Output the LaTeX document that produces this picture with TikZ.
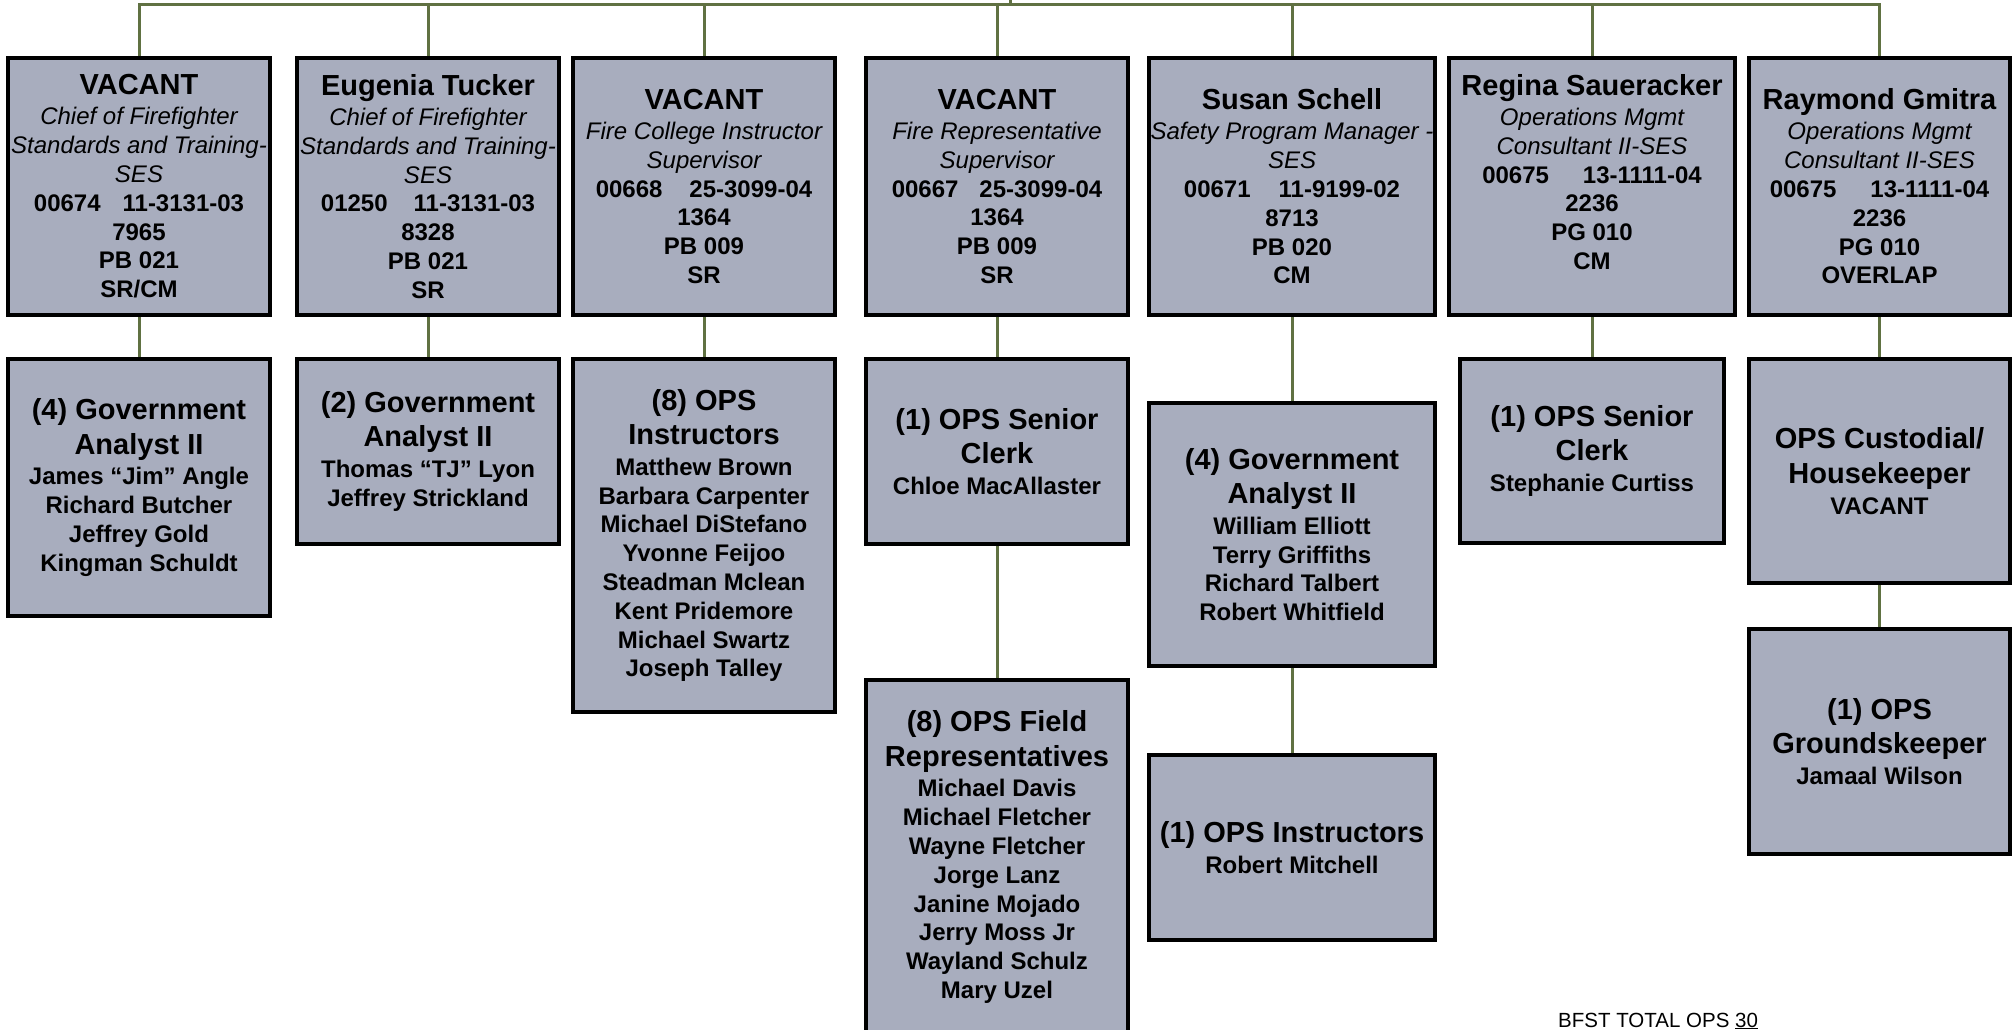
\documentclass[tikz,border=0pt]{standalone}
\usepackage{fontspec}
\setmainfont{Liberation Sans}
\definecolor{boxfill}{RGB}{168,173,190}
\definecolor{conncol}{RGB}{96,113,66}
\newcommand\ttlfont{\fontsize{29}{34.8}\selectfont}
\newcommand\subit{\mdseries\itshape}
\tikzset{
  orgbox/.style={draw=black, line width=4pt, fill=boxfill, rectangle, inner sep=0pt,
    align=center, font=\fontsize{24}{28.8}\selectfont\bfseries},
  conn/.style={draw=conncol, line width=3pt},
  footer/.style={inner sep=0pt, anchor=base west, font=\fontsize{20.5}{24}\selectfont},
}
\begin{document}
\begin{tikzpicture}[x=1pt,y=-1pt]
\useasboundingbox (0,0) rectangle (2013,1030);
\clip (0,0) rectangle (2013,1030);

% ---------- row 1 ----------
\node[orgbox, minimum width=262pt, minimum height=257pt] (b1) at (139,186.5)
 {{\ttlfont VACANT}\\[1.2pt]
  {\subit Chief of Firefighter}\\
  {\subit Standards and Training-}\\
  {\subit SES}\\
  00674\hspace{22pt}11-3131-03\\
  7965\\ PB 021\\ SR/CM};
\node[orgbox, minimum width=262pt, minimum height=257pt] (b2) at (428,186.5)
 {{\ttlfont Eugenia Tucker}\\[1.2pt]
  {\subit Chief of Firefighter}\\
  {\subit Standards and Training-}\\
  {\subit SES}\\
  01250\hspace{26pt}11-3131-03\\
  8328\\ PB 021\\ SR};
\node[orgbox, minimum width=262pt, minimum height=257pt] (b3) at (704,186.5)
 {{\ttlfont VACANT}\\[1.2pt]
  {\subit Fire College Instructor}\\
  {\subit Supervisor}\\
  00668\hspace{27pt}25-3099-04\\
  1364\\ PB 009\\ SR};
\node[orgbox, minimum width=262pt, minimum height=257pt] (b4) at (997,186.5)
 {{\ttlfont VACANT}\\[1.2pt]
  {\subit Fire Representative}\\
  {\subit Supervisor}\\
  00667\hspace{21pt}25-3099-04\\
  1364\\ PB 009\\ SR};
\node[orgbox, minimum width=286pt, minimum height=257pt] (b5) at (1292,186.5)
 {{\ttlfont Susan Schell}\\[1.2pt]
  {\subit Safety Program Manager -}\\
  {\subit SES}\\
  00671\hspace{28pt}11-9199-02\\
  8713\\ PB 020\\ CM};
\node[orgbox, minimum width=286pt, minimum height=257pt, text depth=29pt] (b6) at (1592,186.5)
 {{\ttlfont Regina Saueracker}\\[1.2pt]
  {\subit Operations Mgmt}\\
  {\subit Consultant II-SES}\\
  00675\hspace{34pt}13-1111-04\\
  2236\\ PG 010\\ CM};
\node[orgbox, minimum width=261pt, minimum height=257pt] (b7) at (1879.5,186.5)
 {{\ttlfont Raymond Gmitra}\\[1.2pt]
  {\subit Operations Mgmt}\\
  {\subit Consultant II-SES}\\
  00675\hspace{34pt}13-1111-04\\
  2236\\ PG 010\\ OVERLAP};

% ---------- row 2 ----------
\node[orgbox, minimum width=262pt, minimum height=257pt] (c1) at (139,487.5)
 {{\ttlfont (4) Government}\\[5.7pt]{\ttlfont Analyst II}\\[2pt]
  James “Jim” Angle\\ Richard Butcher\\ Jeffrey Gold\\ Kingman Schuldt};
\node[orgbox, minimum width=262pt, minimum height=185pt] (c2) at (428,451.5)
 {{\ttlfont (2) Government}\\[5.7pt]{\ttlfont Analyst II}\\[2pt]
  Thomas “TJ” Lyon\\ Jeffrey Strickland};
\node[orgbox, minimum width=262pt, minimum height=353pt] (c3) at (704,535.5)
 {{\ttlfont (8) OPS}\\[5.7pt]{\ttlfont Instructors}\\[2pt]
  Matthew Brown\\ Barbara Carpenter\\ Michael DiStefano\\ Yvonne Feijoo\\
  Steadman Mclean\\ Kent Pridemore\\ Michael Swartz\\ Joseph Talley};
\node[orgbox, minimum width=262pt, minimum height=185pt] (c4) at (997,451.5)
 {{\ttlfont (1) OPS Senior}\\[5.7pt]{\ttlfont Clerk}\\[2pt]
  Chloe MacAllaster};
\node[orgbox, minimum width=286pt, minimum height=263pt] (c5) at (1292,534.5)
 {{\ttlfont (4) Government}\\[5.7pt]{\ttlfont Analyst II}\\[2pt]
  William Elliott\\ Terry Griffiths\\ Richard Talbert\\ Robert Whitfield};
\node[orgbox, minimum width=264pt, minimum height=184pt] (c6) at (1592,451)
 {{\ttlfont (1) OPS Senior}\\[5.7pt]{\ttlfont Clerk}\\[2pt]
  Stephanie Curtiss};
\node[orgbox, minimum width=261pt, minimum height=224pt] (c7) at (1879.5,471)
 {{\ttlfont OPS Custodial/}\\[5.7pt]{\ttlfont Housekeeper}\\[2pt]
  VACANT};

% ---------- row 3 ----------
\node[orgbox, minimum width=262pt, minimum height=354pt] (d4) at (997,857)
 {{\ttlfont (8) OPS Field}\\[5.7pt]{\ttlfont Representatives}\\[2pt]
  Michael Davis\\ Michael Fletcher\\ Wayne Fletcher\\ Jorge Lanz\\
  Janine Mojado\\ Jerry Moss Jr\\ Wayland Schulz\\ Mary Uzel};
\node[orgbox, minimum width=286pt, minimum height=185pt] (d5) at (1292,847.5)
 {{\ttlfont (1) OPS Instructors}\\[2pt]
  Robert Mitchell};
\node[orgbox, minimum width=261pt, minimum height=225pt] (d7) at (1879.5,741.5)
 {{\ttlfont (1) OPS}\\[5.7pt]{\ttlfont Groundskeeper}\\[2pt]
  Jamaal Wilson};

% ---------- connectors ----------
\coordinate (hub) at (1010,5);
\coordinate (hubtop) at (1010,-3);
\draw[conn] (hub) -- (hubtop);
\draw[conn] (b1.north) |- (b7.north |- hub) -- (b7.north);
\foreach \n in {b2,b3,b4,b5,b6}
  \draw[conn] (\n.north) -- (\n.north |- hub);
\draw[conn] (b1.south) -- (c1.north);
\draw[conn] (b2.south) -- (c2.north);
\draw[conn] (b3.south) -- (c3.north);
\draw[conn] (b4.south) -- (c4.north);
\draw[conn] (b5.south) -- (c5.north);
\draw[conn] (b6.south) -- (c6.north);
\draw[conn] (b7.south) -- (c7.north);
\draw[conn] (c4.south) -- (d4.north);
\draw[conn] (c5.south) -- (d5.north);
\draw[conn] (c7.south) -- (d7.north);

% ---------- footer ----------
\node[footer] (total) at (1558,1027) {BFST TOTAL OPS \underline{30}};
\end{tikzpicture}
\end{document}
